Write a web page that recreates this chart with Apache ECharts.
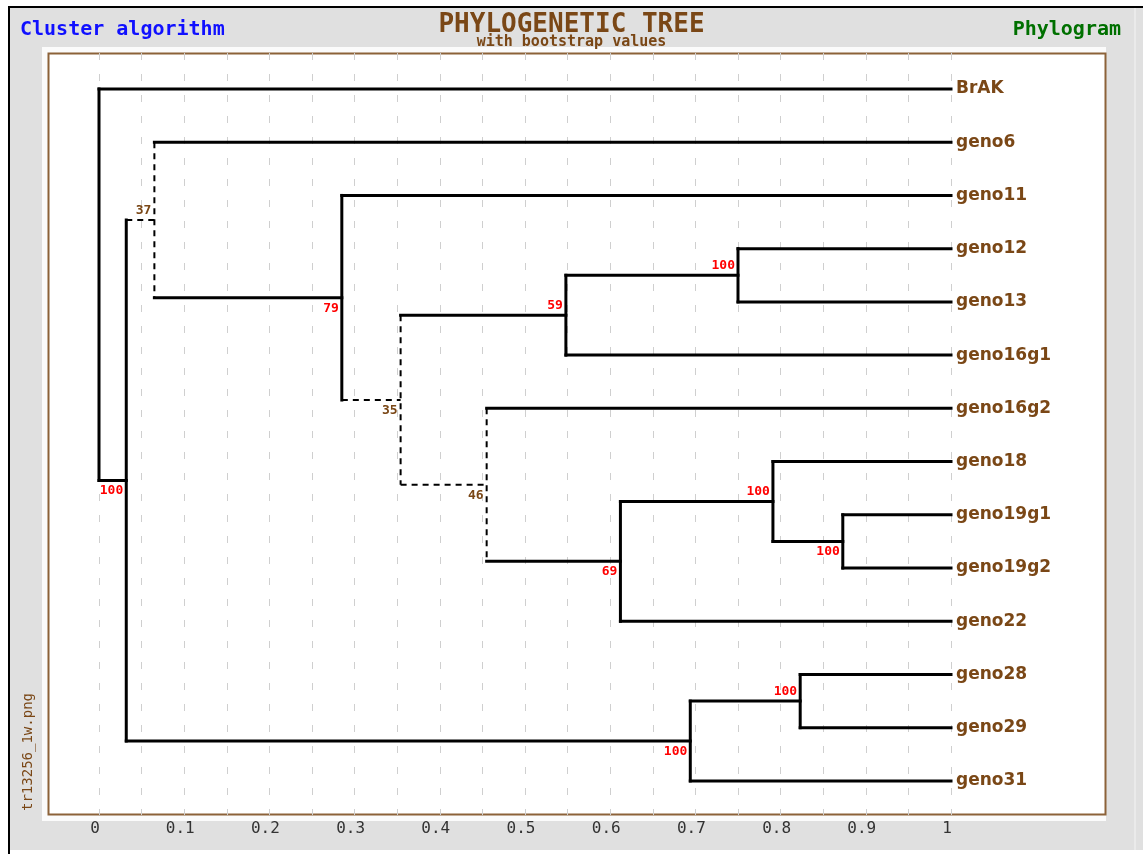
<!DOCTYPE html>
<html>
<head>
<meta charset="utf-8">
<script src="https://cdn.jsdelivr.net/npm/echarts@6/dist/echarts.min.js"></script>
<style>
  html, body { margin: 0; padding: 0; background: #fff; }
  #main { width: 1143px; height: 854px; }
</style>
</head>
<body>
<div id="main"></div>
<script>
// tips, top to bottom
const leafNames = ['BrAK', 'geno6', 'geno11', 'geno12', 'geno13', 'geno16g1', 'geno16g2',
  'geno18', 'geno19g1', 'geno19g2', 'geno22', 'geno28', 'geno29', 'geno31'];
const tipDepth = 1;

// internal nodes: depth on the x scale, bootstrap value, children
const nodeKeys = ['root', 'n1', 'n2', 'n3', 'n4', 'n5', 'n6', 'n7', 'n8', 'n9', 'n10', 'n11', 'n12'];
const nodeDepth = [0, 0.032, 0.065, 0.285, 0.354, 0.548, 0.750, 0.455, 0.612, 0.791, 0.873, 0.694, 0.823];
const nodeSupport = [null, 100, 37, 79, 35, 59, 100, 46, 69, 100, 100, 100, 100];
const nodeChildren = [
  ['BrAK', 'n1'],
  ['n2', 'n11'],
  ['geno6', 'n3'],
  ['geno11', 'n4'],
  ['n5', 'n7'],
  ['n6', 'geno16g1'],
  ['geno12', 'geno13'],
  ['geno16g2', 'n8'],
  ['n9', 'geno22'],
  ['geno18', 'n10'],
  ['geno19g1', 'geno19g2'],
  ['n12', 'geno31'],
  ['geno28', 'geno29']
];

const brown = '#7a4716';

// place every node: tips on their row, inner nodes halfway between first and last child
const pos = {};
leafNames.forEach((n, i) => { pos[n] = { x: tipDepth, y: i }; });
function place(k) {
  if (pos[k]) return pos[k];
  const i = nodeKeys.indexOf(k);
  const ys = nodeChildren[i].map(c => place(c).y);
  pos[k] = { x: nodeDepth[i], y: (ys[0] + ys[ys.length - 1]) / 2 };
  return pos[k];
}
nodeKeys.forEach(place);

// weak support (<50) -> dashed stem and bar
const weak = k => {
  const i = nodeKeys.indexOf(k);
  return i >= 0 && nodeSupport[i] != null && nodeSupport[i] < 50;
};

const segments = [];
nodeKeys.forEach((k, i) => {
  const p = pos[k];
  const kids = nodeChildren[i];
  segments.push([p.x, pos[kids[0]].y, p.x, pos[kids[kids.length - 1]].y, weak(k) ? 1 : 0]);
  kids.forEach(c => segments.push([p.x, pos[c].y, pos[c].x, pos[c].y, weak(c) ? 1 : 0]));
});

// bootstrap labels: above the branch for an upper child, below for a lower one
const supportLabels = [];
nodeKeys.forEach((k, i) => {
  if (nodeSupport[i] == null) return;
  const pi = nodeChildren.findIndex(ch => ch.includes(k));
  const above = nodeChildren[pi][0] === k ? 1 : 0;
  supportLabels.push([pos[k].x, pos[k].y, nodeSupport[i], above]);
});

const tipLabels = leafNames.map((n, i) => [tipDepth, i]);

const chart = echarts.init(document.getElementById('main'), null, { renderer: 'canvas' });

const option = {
  backgroundColor: '#fff',
  animation: false,
  title: [
    {
      text: 'PHYLOGENETIC TREE',
      subtext: 'with bootstrap values',
      left: 'center',
      top: 7,
      itemGap: -3,
      textStyle: { color: brown, fontFamily: 'DejaVu Sans Mono', fontSize: 26, fontWeight: 'bold' },
      subtextStyle: { color: brown, fontFamily: 'DejaVu Sans Mono', fontSize: 15, fontWeight: 'bold' }
    },
    {
      text: 'Cluster algorithm',
      left: 15,
      top: 15,
      textStyle: { color: '#1010ff', fontFamily: 'DejaVu Sans Mono', fontSize: 20, fontWeight: 'bold' }
    },
    {
      text: 'Phylogram',
      right: 17,
      top: 15,
      textStyle: { color: '#007000', fontFamily: 'DejaVu Sans Mono', fontSize: 20, fontWeight: 'bold' }
    }
  ],
  graphic: [
    { type: 'rect', z: -10, shape: { x: 8, y: 6, width: 1135, height: 844 },
      style: { fill: '#e0e0e0', stroke: null } },
    { type: 'line', z: -9, shape: { x1: 8, y1: 7, x2: 1143, y2: 7 }, style: { stroke: '#000', lineWidth: 2 } },
    { type: 'line', z: -9, shape: { x1: 9, y1: 6, x2: 9, y2: 854 }, style: { stroke: '#000', lineWidth: 2 } },
    { type: 'line', z: -9, shape: { x1: 1135, y1: 8, x2: 1135, y2: 850 }, style: { stroke: '#f4f4f4', lineWidth: 1 } },
    { type: 'rect', z: -8, shape: { x: 42, y: 47, width: 1064, height: 774 },
      style: { fill: '#fbfbfb', stroke: null } },
    { type: 'rect', z: -7, shape: { x: 48.5, y: 53.5, width: 1057, height: 761 },
      style: { fill: '#fff', stroke: '#8c6239', lineWidth: 2 } },
    { type: 'text', x: 28, y: 752, rotation: Math.PI / 2,
      style: { text: 'tr13256_1w.png', fill: brown, font: '14px "DejaVu Sans Mono"',
        align: 'center', verticalAlign: 'middle' } }
  ],
  grid: {
    left: 99,
    right: 192,
    top: 53,
    bottom: 39,
    containLabel: false
  },
  xAxis: {
    type: 'value',
    min: 0,
    max: 1,
    interval: 0.1,
    axisLine: { show: false },
    axisTick: { show: false },
    axisLabel: {
      margin: 6,
      color: '#333',
      fontFamily: 'DejaVu Sans Mono',
      fontSize: 16,
      padding: [0, 8, 0, 0]
    },
    splitLine: {
      show: true,
      lineStyle: { color: '#cfcfcf', type: [7, 14], width: 1 }
    },
    minorTick: { show: false, splitNumber: 2 },
    minorSplitLine: {
      show: true,
      lineStyle: { color: '#cfcfcf', type: [7, 14], width: 1 }
    }
  },
  yAxis: {
    type: 'value',
    inverse: true,
    min: -0.676,
    max: 13.64,
    show: false,
    splitLine: { show: false }
  },
  series: [
    {
      name: 'branches',
      type: 'custom',
      clip: false,
      data: segments,
      encode: { x: [0, 2], y: [1, 3] },
      z: 3,
      renderItem: function (params, api) {
        const a = api.coord([api.value(0), api.value(1)]);
        const b = api.coord([api.value(2), api.value(3)]);
        const dashed = api.value(4) === 1;
        return {
          type: 'line',
          shape: { x1: a[0], y1: a[1], x2: b[0], y2: b[1] },
          style: {
            stroke: '#000',
            lineWidth: dashed ? 2 : 3,
            lineDash: dashed ? [6, 5] : null,
            lineCap: dashed ? 'butt' : 'square'
          }
        };
      }
    },
    {
      name: 'bootstrap',
      type: 'custom',
      clip: false,
      data: supportLabels,
      encode: { x: 0, y: 1 },
      z: 4,
      renderItem: function (params, api) {
        const p = api.coord([api.value(0), api.value(1)]);
        const v = api.value(2);
        const above = api.value(3) === 1;
        return {
          type: 'text',
          x: p[0] - 3,
          y: above ? p[1] - 3 : p[1] + 4,
          style: {
            text: String(v),
            fill: v < 50 ? brown : '#ff0000',
            font: 'bold 13px "DejaVu Sans Mono"',
            align: 'right',
            verticalAlign: above ? 'bottom' : 'top'
          }
        };
      }
    },
    {
      name: 'tips',
      type: 'custom',
      clip: false,
      data: tipLabels,
      encode: { x: 0, y: 1 },
      z: 4,
      renderItem: function (params, api) {
        const p = api.coord([api.value(0), api.value(1)]);
        return {
          type: 'text',
          x: p[0] + 5,
          y: p[1],
          style: {
            text: leafNames[params.dataIndex],
            fill: brown,
            font: 'bold 17px "DejaVu Sans"',
            align: 'left',
            verticalAlign: 'middle'
          }
        };
      }
    }
  ]
};

chart.setOption(option);
</script>
</body>
</html>
